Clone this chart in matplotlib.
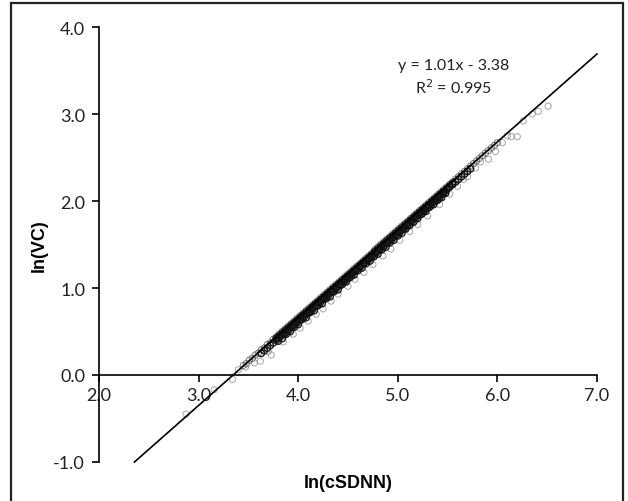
import matplotlib
matplotlib.use("Agg")
import matplotlib.pyplot as plt
import numpy as np
from matplotlib.patches import Rectangle

# trendline from the chart label
slope = 1.01
intercept = -3.38
trend_x = [2.356, 7.0]

# dense band, points sitting on the trendline
band_a_x = [3.45, 3.48, 3.51, 3.54, 3.57, 3.60, 3.63, 3.66, 3.69, 3.72,
            3.75, 3.78, 3.81, 3.84, 3.87, 3.90, 3.93, 3.96, 3.99, 4.02,
            4.05, 4.08, 4.11, 4.14, 4.17, 4.20, 4.23, 4.26, 4.29, 4.32,
            4.35, 4.38, 4.41, 4.44, 4.47, 4.50, 4.53, 4.56, 4.59, 4.62,
            4.65, 4.68, 4.71, 4.74, 4.77, 4.80, 4.83, 4.86, 4.89, 4.92,
            4.95, 4.98, 5.01, 5.04, 5.07, 5.10, 5.13, 5.16, 5.19, 5.22,
            5.25, 5.28, 5.31, 5.34, 5.37, 5.40, 5.43, 5.46, 5.49, 5.52,
            5.55, 5.58, 5.61, 5.64, 5.67, 5.70, 5.73, 5.76, 5.79, 5.82,
            5.85, 5.88, 5.91, 5.94, 5.97, 6.00]
band_a_y = [0.11, 0.13, 0.17, 0.19, 0.23, 0.25, 0.29, 0.31, 0.35, 0.37,
            0.41, 0.44, 0.47, 0.50, 0.53, 0.56, 0.59, 0.62, 0.65, 0.68,
            0.71, 0.74, 0.77, 0.80, 0.83, 0.86, 0.89, 0.92, 0.95, 0.98,
            1.01, 1.04, 1.07, 1.10, 1.13, 1.16, 1.19, 1.22, 1.25, 1.28,
            1.31, 1.34, 1.37, 1.40, 1.44, 1.47, 1.50, 1.53, 1.56, 1.59,
            1.62, 1.65, 1.68, 1.71, 1.74, 1.77, 1.80, 1.83, 1.86, 1.89,
            1.92, 1.95, 1.98, 2.01, 2.04, 2.07, 2.10, 2.13, 2.16, 2.19,
            2.22, 2.25, 2.28, 2.31, 2.34, 2.37, 2.40, 2.43, 2.46, 2.49,
            2.52, 2.55, 2.58, 2.61, 2.64, 2.67]

# a hair under the line
band_d_x = [3.78, 3.81, 3.84, 3.87, 3.90, 3.93, 3.96, 3.99, 4.02, 4.05,
            4.08, 4.11, 4.14, 4.17, 4.20, 4.23, 4.26, 4.29, 4.32, 4.35,
            4.38, 4.41, 4.44, 4.47, 4.50, 4.53, 4.56, 4.59, 4.62, 4.65,
            4.68, 4.71, 4.74, 4.77, 4.80, 4.83, 4.86, 4.89, 4.92, 4.95,
            4.98, 5.01, 5.04, 5.07, 5.10, 5.13, 5.16, 5.19, 5.22, 5.25,
            5.28, 5.31, 5.34, 5.37, 5.40, 5.43, 5.46, 5.49, 5.52, 5.55]
band_d_y = [0.42, 0.45, 0.48, 0.51, 0.54, 0.57, 0.60, 0.63, 0.66, 0.69,
            0.72, 0.75, 0.78, 0.81, 0.84, 0.87, 0.90, 0.93, 0.96, 0.99,
            1.02, 1.05, 1.08, 1.11, 1.14, 1.17, 1.20, 1.23, 1.26, 1.29,
            1.32, 1.35, 1.38, 1.42, 1.45, 1.48, 1.51, 1.54, 1.57, 1.60,
            1.63, 1.66, 1.69, 1.72, 1.75, 1.78, 1.81, 1.84, 1.87, 1.90,
            1.93, 1.96, 1.99, 2.02, 2.05, 2.08, 2.11, 2.14, 2.17, 2.20]

# just below the line
band_b_x = [3.63, 3.66, 3.69, 3.72, 3.75, 3.78, 3.81, 3.84, 3.87, 3.90,
            3.93, 3.96, 3.99, 4.02, 4.05, 4.08, 4.11, 4.14, 4.17, 4.20,
            4.23, 4.26, 4.29, 4.32, 4.35, 4.38, 4.41, 4.44, 4.47, 4.50,
            4.53, 4.56, 4.59, 4.62, 4.65, 4.68, 4.71, 4.74, 4.77, 4.80,
            4.83, 4.86, 4.89, 4.92, 4.95, 4.98, 5.01, 5.04, 5.07, 5.10,
            5.13, 5.16, 5.19, 5.22, 5.25, 5.28, 5.31, 5.34, 5.37, 5.40,
            5.43, 5.46, 5.49, 5.52, 5.55, 5.58, 5.61, 5.64, 5.67, 5.70,
            5.73]
band_b_y = [0.25, 0.28, 0.31, 0.34, 0.37, 0.40, 0.43, 0.46, 0.49, 0.52,
            0.55, 0.58, 0.61, 0.64, 0.67, 0.70, 0.73, 0.77, 0.80, 0.83,
            0.86, 0.89, 0.92, 0.95, 0.98, 1.01, 1.04, 1.07, 1.10, 1.13,
            1.16, 1.19, 1.22, 1.25, 1.28, 1.31, 1.34, 1.37, 1.40, 1.43,
            1.46, 1.49, 1.52, 1.55, 1.58, 1.61, 1.64, 1.67, 1.70, 1.73,
            1.77, 1.80, 1.83, 1.86, 1.89, 1.92, 1.95, 1.98, 2.01, 2.04,
            2.07, 2.10, 2.13, 2.16, 2.19, 2.22, 2.25, 2.28, 2.31, 2.34,
            2.37]

# between the middle and the lower edge
band_e_x = [3.86, 3.90, 3.94, 3.98, 4.02, 4.06, 4.10, 4.14, 4.18, 4.22,
            4.26, 4.30, 4.34, 4.38, 4.42, 4.46, 4.50, 4.54, 4.58, 4.62,
            4.66, 4.70, 4.74, 4.78, 4.82, 4.86, 4.90, 4.94, 4.98, 5.02,
            5.06, 5.10, 5.14, 5.18, 5.22, 5.26, 5.30, 5.34, 5.38, 5.42,
            5.46]
band_e_y = [0.47, 0.51, 0.55, 0.59, 0.63, 0.67, 0.71, 0.75, 0.79, 0.83,
            0.87, 0.91, 0.95, 0.99, 1.03, 1.07, 1.11, 1.15, 1.20, 1.24,
            1.28, 1.32, 1.36, 1.40, 1.44, 1.48, 1.52, 1.56, 1.60, 1.64,
            1.68, 1.72, 1.76, 1.80, 1.84, 1.88, 1.92, 1.96, 2.00, 2.04,
            2.09]

# lower edge of the band
band_c_x = [3.80, 3.84, 3.88, 3.92, 3.96, 4.00, 4.04, 4.08, 4.12, 4.16,
            4.20, 4.24, 4.28, 4.32, 4.36, 4.40, 4.44, 4.48, 4.52, 4.56,
            4.60, 4.64, 4.68, 4.72, 4.76, 4.80, 4.84, 4.88, 4.92, 4.96,
            5.00, 5.04, 5.08, 5.12, 5.16, 5.20, 5.24, 5.28, 5.32, 5.36,
            5.40, 5.44, 5.48]
band_c_y = [0.39, 0.42, 0.47, 0.50, 0.55, 0.58, 0.64, 0.66, 0.72, 0.74,
            0.80, 0.82, 0.88, 0.90, 0.96, 0.98, 1.04, 1.07, 1.12, 1.15,
            1.20, 1.23, 1.28, 1.31, 1.36, 1.39, 1.44, 1.47, 1.52, 1.55,
            1.60, 1.63, 1.68, 1.72, 1.76, 1.80, 1.85, 1.88, 1.93, 1.96,
            2.01, 2.04, 2.09]

# scattered points away from the core
sparse_x = [2.874, 3.156, 3.34, 3.40, 3.47, 3.56, 3.62, 3.70, 3.73, 3.85,
            3.95, 4.02, 4.10, 4.18, 4.25, 4.33, 4.40, 4.50, 4.57, 4.66,
            4.75, 4.85, 4.93, 5.02, 5.12, 5.20, 5.30, 5.42, 5.52, 5.60,
            5.66, 5.70, 5.78, 5.83, 5.91, 5.98, 6.05, 6.10, 6.14, 6.20,
            6.26, 6.35, 6.41, 6.51]
sparse_y = [-0.45, -0.17, -0.05, 0.06, 0.09, 0.14, 0.16, 0.27, 0.23, 0.38,
            0.47, 0.54, 0.62, 0.70, 0.76, 0.85, 0.93, 1.02, 1.10, 1.18,
            1.27, 1.37, 1.45, 1.55, 1.65, 1.73, 1.83, 1.96, 2.08, 2.17,
            2.25, 2.28, 2.38, 2.45, 2.48, 2.57, 2.67, 2.75, 2.74, 2.74,
            2.92, 3.00, 3.03, 3.09]

x_ticks = [2.0, 3.0, 4.0, 5.0, 6.0, 7.0]
y_ticks = [-1.0, 0.0, 1.0, 2.0, 3.0, 4.0]

tick_font = "Lato"
label_font = "Liberation Sans"

fig = plt.figure(figsize=(6.28, 5.02), dpi=100)
ax = fig.add_axes([0.1576, 0.0777, 0.793, 0.8665])

# spine position first: moving it resets the ticks
ax.spines["top"].set_visible(False)
ax.spines["right"].set_visible(False)
ax.spines["bottom"].set_position(("data", 0.0))
ax.spines["left"].set_linewidth(1.2)
ax.spines["bottom"].set_linewidth(1.2)

# outer points of the cloud, lighter
ax.scatter(band_a_x, band_a_y, s=20, facecolors="none", edgecolors="#3a3a3a",
           linewidths=0.8, alpha=0.6, zorder=2)
ax.scatter(sparse_x, sparse_y, s=20, facecolors="none", edgecolors="#6a6a6a",
           linewidths=0.7, alpha=0.6, zorder=2)

# the dark core
core_x = band_d_x + band_b_x + band_e_x + band_c_x
core_y = band_d_y + band_b_y + band_e_y + band_c_y
ax.scatter(core_x, core_y, s=22, facecolors="none", edgecolors="#111111",
           linewidths=1.0, alpha=0.95, zorder=2)

tx = np.array(trend_x)
ax.plot(tx, slope * tx + intercept, color="black", lw=1.2, zorder=3,
        clip_on=False)

ax.set_xlim(2.0, 7.0)
ax.set_ylim(-1.0, 4.0)
ax.set_xticks(x_ticks)
ax.set_yticks(y_ticks)
ax.set_xticklabels([f"{v:.1f}" for v in x_ticks], fontfamily=tick_font, fontsize=13)
ax.set_yticklabels([f"{v:.1f}" for v in y_ticks], fontfamily=tick_font, fontsize=13)
ax.tick_params(axis="both", direction="out", length=5, width=1.2, colors="black",
               labelcolor="#222222")
ax.tick_params(axis="x", pad=4)
ax.tick_params(axis="y", pad=5)

ax.set_xlabel("ln(cSDNN)", fontfamily=label_font, fontweight="bold", fontsize=13)
ax.xaxis.set_label_coords(0.5, -0.028)
ax.set_ylabel("ln(VC)", fontfamily=label_font, fontweight="bold", fontsize=13)
ax.yaxis.set_label_coords(-0.103, 0.5)

ax.text(5.56, 3.56, "y = 1.01x - 3.38", ha="center", va="center",
        fontfamily=tick_font, fontsize=11.5, color="#222222")
ax.text(5.56, 3.31, "R$^2$ = 0.995", ha="center", va="center",
        fontfamily=tick_font, fontsize=11.5, color="#222222")

# outer frame around the chart area
fig.patches.append(Rectangle((0.0175, -0.02), 0.9745, 1.012, transform=fig.transFigure,
                             fill=False, edgecolor="#222222", lw=1.6))

fig.savefig("out.png", dpi=100)
